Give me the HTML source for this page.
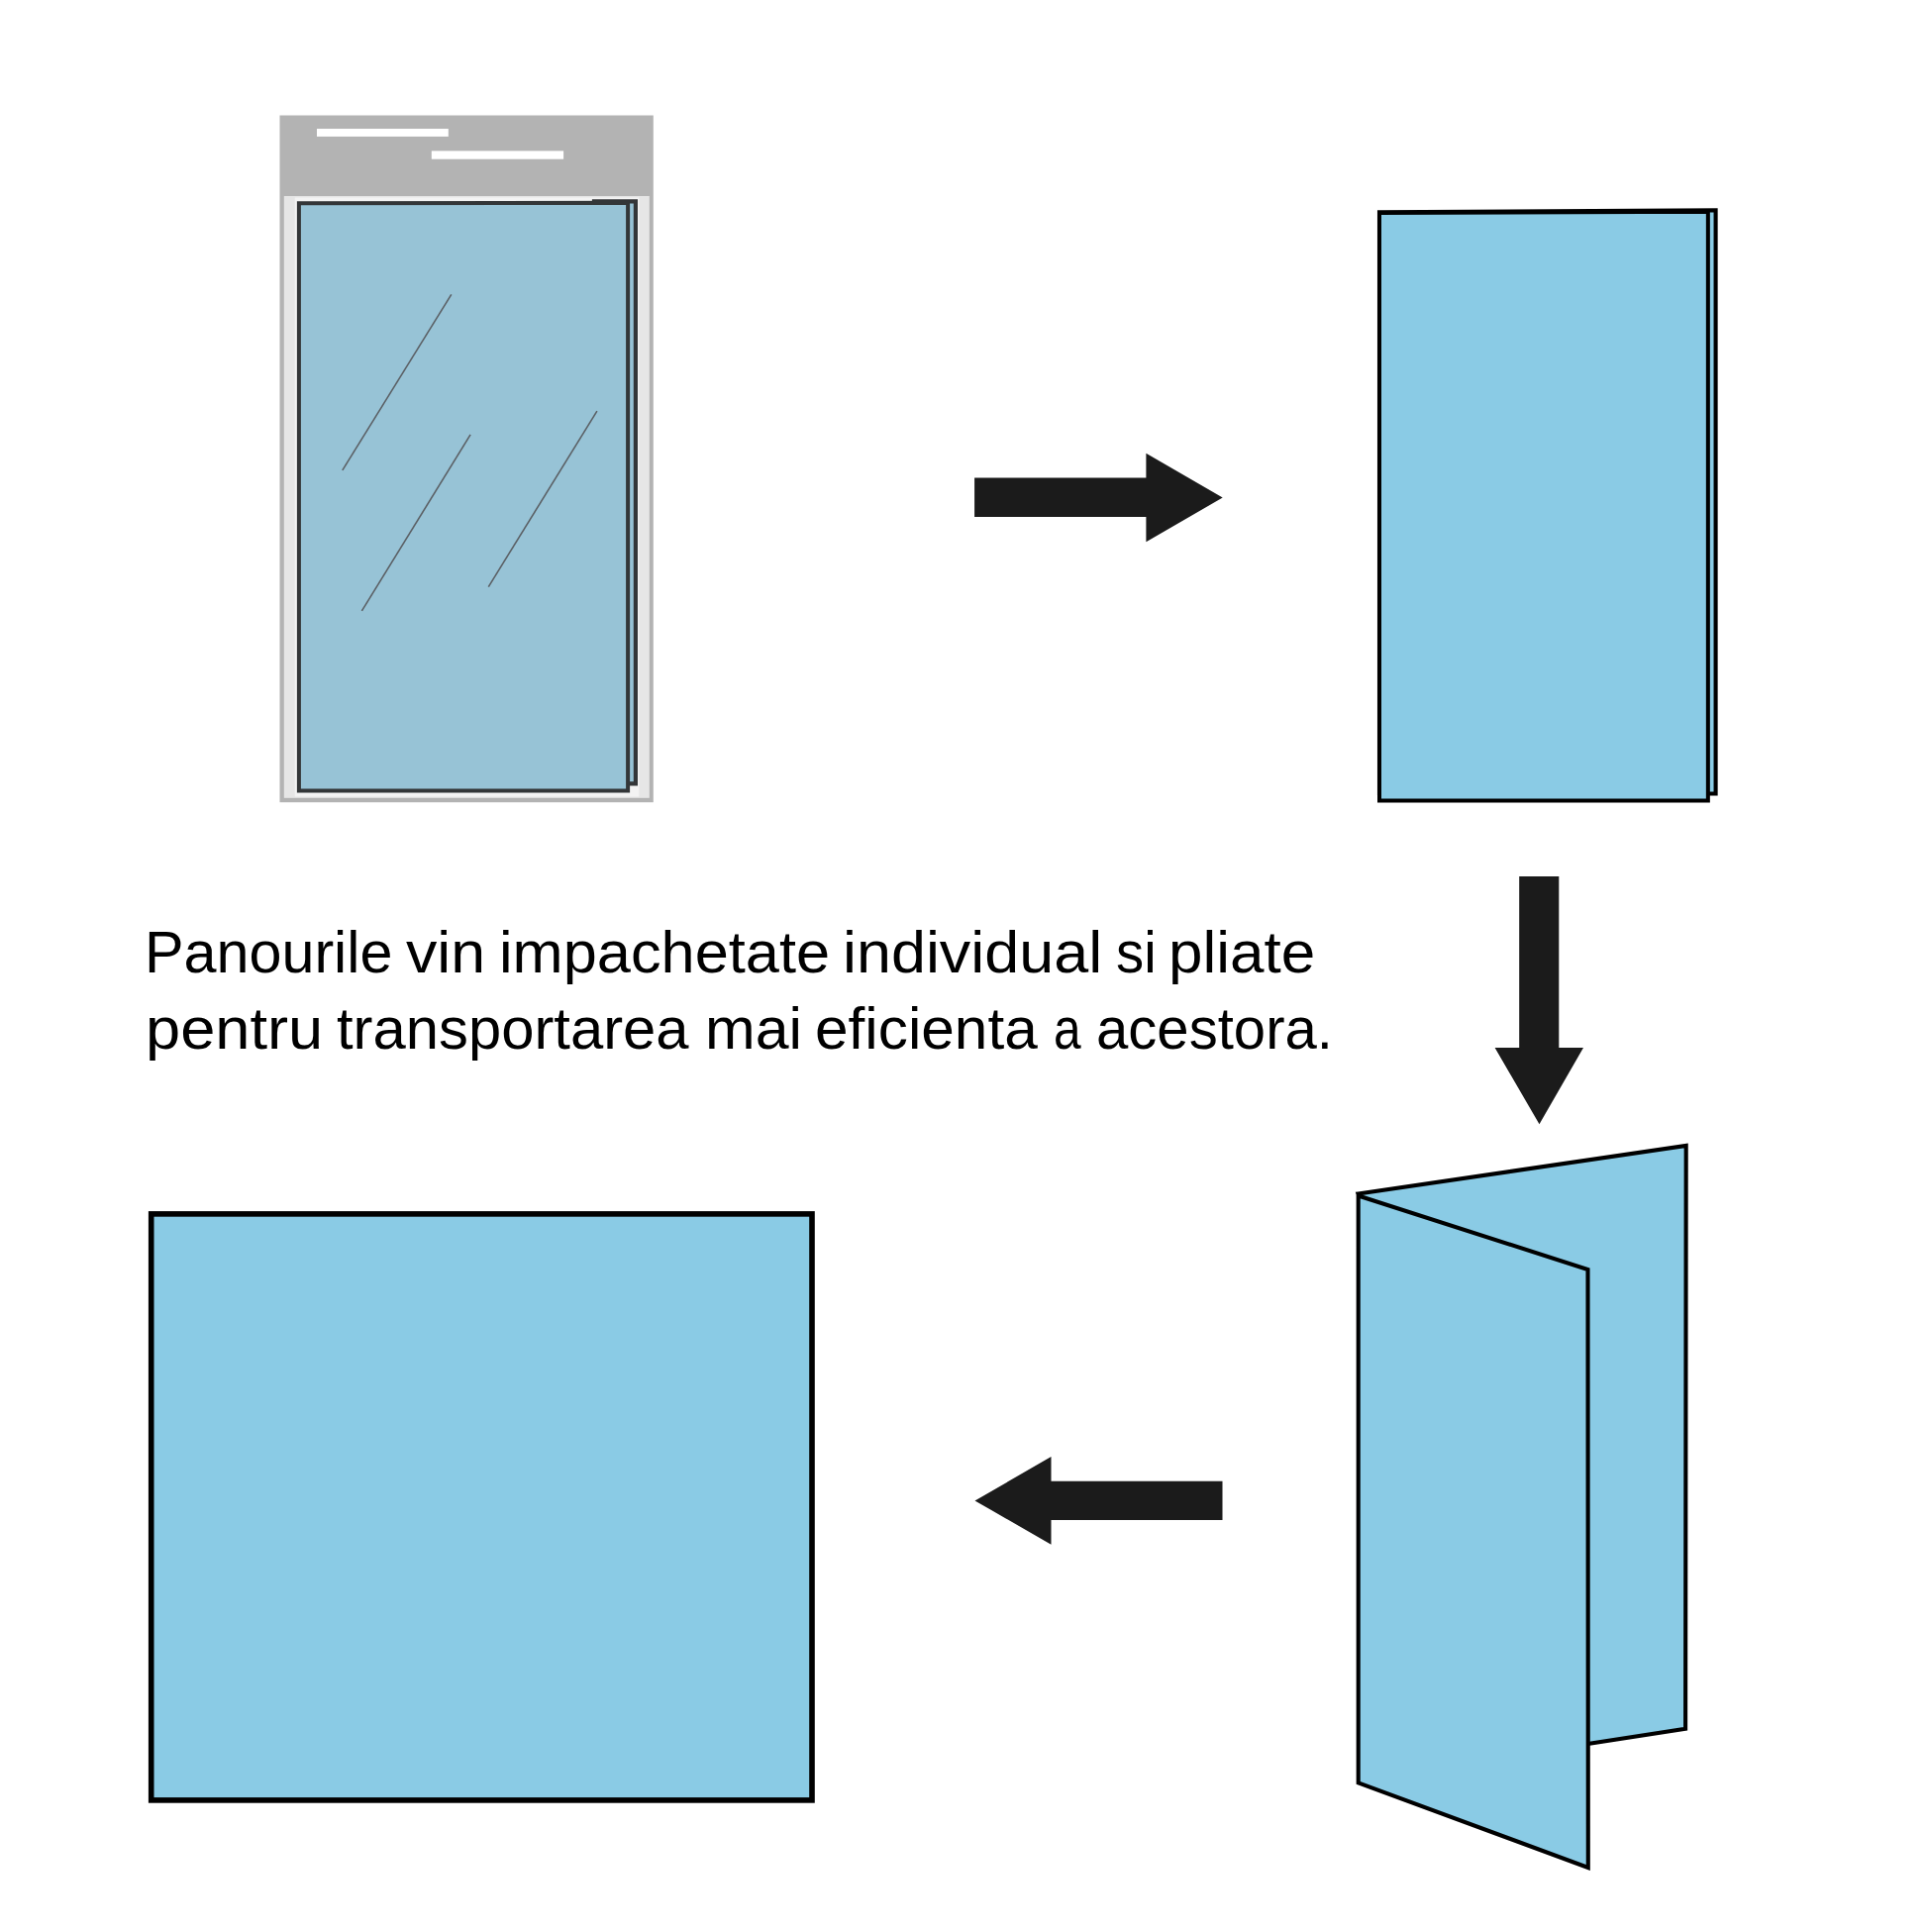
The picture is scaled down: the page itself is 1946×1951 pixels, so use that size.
<!DOCTYPE html>
<html>
<head>
<meta charset="utf-8">
<style>
html,body{margin:0;padding:0;background:#ffffff;}
body{width:1946px;height:1951px;overflow:hidden;position:relative;}
svg{position:absolute;left:0;top:0;display:block;}
.txt{position:absolute;left:0;top:0;font-family:"Liberation Sans",sans-serif;font-size:60px;line-height:60px;color:#000000;white-space:nowrap;transform-origin:0 0;}
</style>
</head>
<body>
<svg width="1946" height="1951" viewBox="0 0 1946 1951">
  <!-- Bag -->
  <rect x="282.5" y="116.5" width="377.3" height="693.7" fill="#b3b3b3"/>
  <rect x="286.8" y="198" width="369" height="607.8" fill="#e6e6e6"/>
  <rect x="320" y="130" width="132.8" height="7.9" fill="#ffffff"/>
  <rect x="435.8" y="152.4" width="133.3" height="8.3" fill="#ffffff"/>
  <!-- white glow -->
  <rect x="297.8" y="199.5" width="347.5" height="605" fill="#f3f3f3"/>
  <!-- back panel -->
  <path d="M600,203.4 L641.9,203.4 L641.9,791.4 L600,791.4 Z" fill="#97c3d6" stroke="#333638" stroke-width="4.2" stroke-linejoin="miter"/>
  <!-- front panel -->
  <path d="M301.9,205.3 L634.1,204.8 L634.1,798.6 L301.9,798.6 Z" fill="#97c3d6" stroke="#333638" stroke-width="4" stroke-linejoin="miter"/>
  <!-- glare lines -->
  <g stroke="#5b6065" stroke-width="1.6" stroke-linecap="butt">
    <line x1="345.8" y1="474.9" x2="455.8" y2="297.4"/>
    <line x1="365.4" y1="616.9" x2="475.1" y2="438.9"/>
    <line x1="493.3" y1="592.6" x2="602.9" y2="415.1"/>
  </g>

  <!-- Arrows -->
  <g fill="#1b1b1b">
    <polygon points="984.1,482.4 1157.4,482.4 1157.4,457.7 1234.7,502.5 1157.4,547.2 1157.4,522.1 984.1,522.1"/>
    <polygon points="1534.2,884.9 1574.3,884.9 1574.3,1058.1 1599,1058.1 1554.5,1135.2 1509.6,1058.1 1534.2,1058.1"/>
    <polygon points="1234.5,1495.8 1061.5,1495.8 1061.5,1471.1 984.5,1515.4 1061.5,1559.7 1061.5,1535.0 1234.5,1535.0"/>
  </g>

  <!-- Folded panel top right -->
  <path d="M1393,214.35 L1732.6,212.25 L1732.6,801.5 L1393,801.5 Z" fill="#8acbe5" stroke="#000000" stroke-width="4.1" stroke-linejoin="miter"/>
  <path d="M1393,215.1 L1724.85,213.85 L1724.85,808.4 L1393,808.4 Z" fill="#8acbe5" stroke="#000000" stroke-width="4" stroke-linejoin="miter"/>

  <!-- Big rect -->
  <rect x="152.7" y="1225.9" width="667.3" height="592" fill="#8acbe5" stroke="#000000" stroke-width="5.6"/>

  <!-- Tri-fold -->
  <path d="M1371.7,1205.5 L1702.7,1156.9 L1702.1,1745.7 L1603.5,1761 L1500,1500 Z" fill="#8acbe5" stroke="#000000" stroke-width="4.1" stroke-linejoin="miter"/>
  <path d="M1371.7,1207.5 L1603.5,1282 L1603.8,1886 L1371.7,1800.3 Z" fill="#8acbe5" stroke="#000000" stroke-width="4.1" stroke-linejoin="miter"/>
</svg>
<div class="txt" style="left:145.96px;top:932.3px;transform:scaleX(0.9878);">Panourile</div>
<div class="txt" style="left:410.30px;top:932.3px;transform:scaleX(1.0452);">vin</div>
<div class="txt" style="left:503.51px;top:932.3px;transform:scaleX(1.0219);">impachetate</div>
<div class="txt" style="left:851.11px;top:932.3px;transform:scaleX(1.0479);">individual</div>
<div class="txt" style="left:1127.12px;top:932.3px;transform:scaleX(0.9378);">si</div>
<div class="txt" style="left:1180.17px;top:932.3px;transform:scaleX(1.0328);">pliate</div>
<div class="txt" style="left:147.09px;top:1009.2px;transform:scaleX(1.0537);">pentru</div>
<div class="txt" style="left:339.50px;top:1009.2px;transform:scaleX(0.9963);">transportarea</div>
<div class="txt" style="left:712.05px;top:1009.2px;transform:scaleX(1.0135);">mai</div>
<div class="txt" style="left:822.98px;top:1009.2px;transform:scaleX(1.0055);">eficienta</div>
<div class="txt" style="left:1063.52px;top:1009.2px;transform:scaleX(0.8267);">a</div>
<div class="txt" style="left:1106.70px;top:1009.2px;transform:scaleX(0.9681);">acestora.</div>
</body>
</html>
